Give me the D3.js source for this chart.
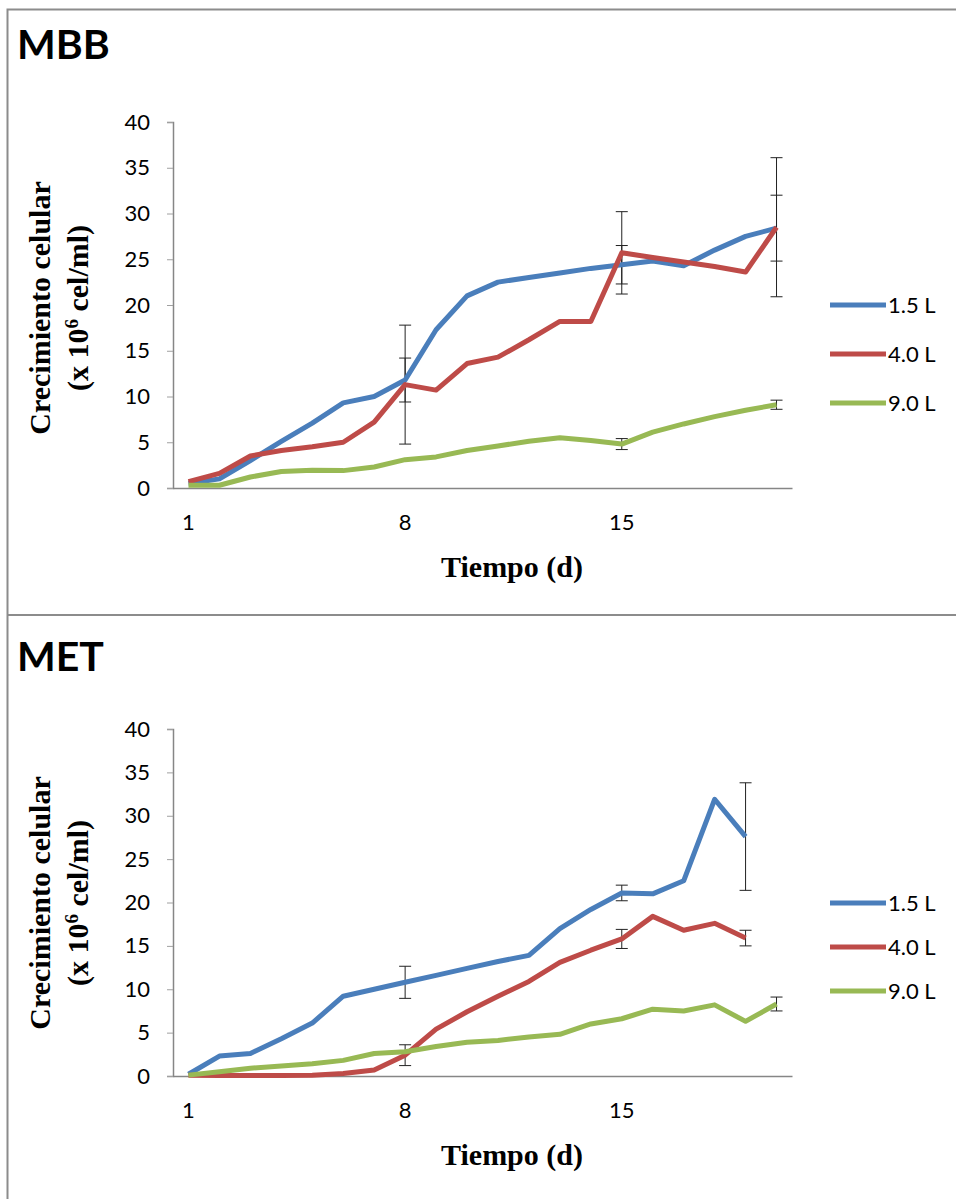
<!DOCTYPE html>
<html lang="es">
<head>
<meta charset="utf-8">
<script src="https://d3js.org/d3.v7.min.js"></script>
<style>
  body { margin: 0; background: #fff; }
  svg text { fill: #000; }
</style>
</head>
<body>
<script>
// dias de cultivo
const days = d3.range(1, 21);
const xTicks = [1, 8, 15];
const yTicks = [0, 5, 10, 15, 20, 25, 30, 35, 40];
const seriesNames = ["1.5 L", "4.0 L", "9.0 L"];
const colors = ["#4a7ebb", "#be4b48", "#98b954"];

// MBB
const mbb15 = [0.5, 1.0, 3.0, 5.1, 7.1, 9.3, 10.0, 11.8, 17.3, 21.0, 22.5, 23.0, 23.5, 24.0, 24.4, 24.8, 24.3, 26.0, 27.5, 28.4];
const mbb40 = [0.7, 1.6, 3.5, 4.1, 4.5, 5.0, 7.2, 11.3, 10.7, 13.6, 14.3, 16.2, 18.2, 18.2, 25.7, 25.2, 24.7, 24.2, 23.6, 28.5];
const mbb90 = [0.3, 0.3, 1.2, 1.8, 1.95, 1.9, 2.3, 3.1, 3.4, 4.1, 4.6, 5.1, 5.5, 5.2, 4.8, 6.1, 7.0, 7.8, 8.5, 9.1];
const mbbErr15 = { 8: 2.4, 15: 2.1, 20: 3.6 };
const mbbErr40 = { 8: 6.5, 15: 4.5, 20: 7.6 };
const mbbErr90 = { 15: 0.6, 20: 0.5 };

// MET
const met15 = [0.2, 2.3, 2.6, 4.3, 6.1, 9.2, 10.0, 10.8, 11.6, 12.4, 13.2, 13.9, 17.0, 19.2, 21.1, 21.0, 22.5, 31.9, 27.6];
const met40 = [0.1, 0.05, 0.05, 0.05, 0.1, 0.3, 0.7, 2.4, 5.4, 7.4, 9.2, 10.9, 13.1, 14.5, 15.8, 18.4, 16.8, 17.6, 15.9];
const met90 = [0.1, 0.5, 0.9, 1.15, 1.4, 1.8, 2.6, 2.8, 3.4, 3.9, 4.1, 4.5, 4.8, 6.0, 6.6, 7.7, 7.5, 8.2, 6.3, 8.3];
const metErr15 = { 8: 1.85, 15: 0.9, 19: 6.2 };
const metErr40 = { 8: 1.2, 15: 1.1, 19: 0.9 };
const metErr90 = { 20: 0.8 };

const W = 956, H = 1199;
const svg = d3.select("body").append("svg")
  .attr("width", W)
  .attr("height", H);

// marco
svg.append("path")
  .attr("d", "M7.5," + H + "V9.5H" + W)
  .attr("fill", "none").attr("stroke", "#8c8c8c").attr("stroke-width", 2);
svg.append("line")
  .attr("x1", 7).attr("x2", W).attr("y1", 615).attr("y2", 615)
  .attr("stroke", "#8c8c8c").attr("stroke-width", 2);

const x = d3.scaleBand().domain(days).range([173, 792]);
const cx = d => x(d) + x.bandwidth() / 2;

function panel(cfg) {
  const y = d3.scaleLinear().domain([0, 40]).range([cfg.y0, cfg.y40]);
  const g = svg.append("g");

  g.append("text")
    .attr("x", 17).attr("y", cfg.titleY)
    .style("font-family", "Lato, sans-serif").style("font-weight", 700)
    .style("font-size", "41px")
    .text(cfg.title);

  // eje y
  const ya = g.append("g")
    .attr("transform", "translate(173,0)")
    .call(d3.axisLeft(y).tickValues(yTicks).tickSize(6).tickPadding(17));
  ya.select(".domain").attr("stroke", "#868686").attr("stroke-width", 1.5);
  ya.selectAll(".tick line").attr("stroke", "#a0a0a0");
  ya.selectAll("text")
    .style("font-family", "Lato, sans-serif").style("font-size", "22px");

  // eje x
  const xa = g.append("g")
    .attr("transform", "translate(0," + cfg.y0 + ")")
    .call(d3.axisBottom(x).tickValues(xTicks).tickSizeOuter(0).tickSizeInner(0).tickPadding(26));
  xa.select(".domain").attr("stroke", "#868686").attr("stroke-width", 1.5);
  xa.selectAll("text")
    .style("font-family", "Lato, sans-serif").style("font-size", "22px");

  g.append("text")
    .attr("x", 512).attr("y", cfg.y0 + 89)
    .attr("text-anchor", "middle")
    .style("font-family", "'Liberation Serif', serif").style("font-weight", 700)
    .style("font-size", "30px")
    .text("Tiempo (d)");

  const yt = g.append("text")
    .attr("transform", "translate(0," + cfg.yTitleC + ") rotate(-90)")
    .attr("text-anchor", "middle")
    .style("font-family", "'Liberation Serif', serif").style("font-weight", 700)
    .style("font-size", "30px");
  yt.append("tspan").attr("x", 0).attr("y", 50).text("Crecimiento celular");
  const t2 = yt.append("tspan").attr("x", 0).attr("y", 88).text("(x 10");
  t2.append("tspan").attr("dy", -10).style("font-size", "19px").text("6");
  t2.append("tspan").attr("dy", 10).text(" cel/ml)");

  const line = d3.line().x((v, i) => cx(days[i])).y(v => y(v));

  // barras de error
  cfg.series.forEach(s => {
    Object.keys(s.err).forEach(k => {
      const d = +k, v = s.vals[d - 1], e = s.err[k];
      const xx = cx(d);
      const eg = g.append("g").attr("stroke", "#222").attr("stroke-width", 1);
      eg.append("line").attr("x1", xx).attr("x2", xx).attr("y1", y(v - e)).attr("y2", y(v + e));
      [v - e, v + e].forEach(t => {
        eg.append("line").attr("x1", xx - 6).attr("x2", xx + 6).attr("y1", y(t)).attr("y2", y(t));
      });
    });
  });

  cfg.series.forEach((s, i) => {
    g.append("path")
      .datum(s.vals)
      .attr("fill", "none")
      .attr("stroke", colors[i])
      .attr("stroke-width", 5)
      .attr("stroke-linejoin", "round")
      .attr("d", line);
  });

  // leyenda
  const lg = g.append("g");
  seriesNames.forEach((n, i) => {
    const ly = cfg.legY[i];
    lg.append("line")
      .attr("x1", 830).attr("x2", 886).attr("y1", ly).attr("y2", ly)
      .attr("stroke", colors[i]).attr("stroke-width", 5);
    lg.append("text")
      .attr("x", 888).attr("y", ly + 8)
      .style("font-family", "Lato, sans-serif").style("font-size", "22px")
      .text(n);
  });
}

panel({
  title: "MBB", titleY: 59, y0: 488, y40: 122, yTitleC: 308,
  legY: [305, 354, 403],
  series: [
    { vals: mbb15, err: mbbErr15 },
    { vals: mbb40, err: mbbErr40 },
    { vals: mbb90, err: mbbErr90 }
  ]
});

panel({
  title: "MET", titleY: 671, y0: 1076, y40: 729, yTitleC: 903,
  legY: [903, 947, 991],
  series: [
    { vals: met15, err: metErr15 },
    { vals: met40, err: metErr40 },
    { vals: met90, err: metErr90 }
  ]
});
</script>
</body>
</html>
